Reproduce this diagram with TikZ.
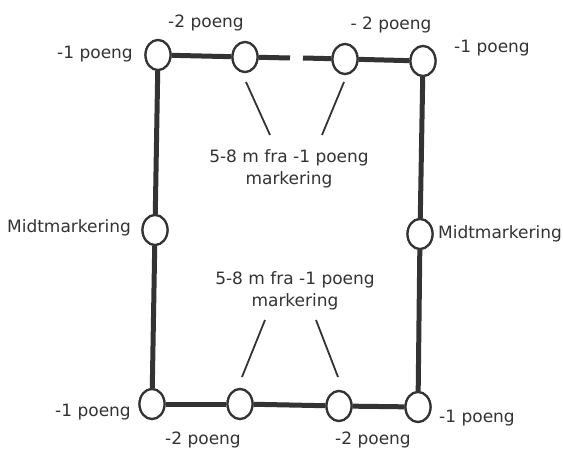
\documentclass[tikz,border=0pt]{standalone}
\usepackage{fontspec}
\setmainfont{DejaVu Sans}
\usetikzlibrary{shapes.geometric}
\definecolor{ink}{HTML}{333333}
\begin{document}
\begin{tikzpicture}[x=1pt,y=-1pt,
  post/.style={ellipse,draw=ink,line width=2.2pt,fill=white,minimum width=25pt,minimum height=30pt,inner sep=0pt},
  rope/.style={draw=ink,line width=5pt},
  pointer/.style={draw=ink,line width=1.8pt},
  lbl/.style={text=ink,font=\fontsize{17}{22}\selectfont,inner sep=0pt}]
\useasboundingbox (0,0) rectangle (563,452);
% posts
\node[post] (tl) at (158,55) {};
\node[post] (t2) at (245,57) {};
\node[post] (t3) at (345,59) {};
\node[post] (tr) at (423,61) {};
\node[post] (ml) at (155,230) {};
\node[post] (mr) at (420,234) {};
\node[post] (bl) at (152,404) {};
\node[post] (b2) at (240,404) {};
\node[post] (b3) at (339,406) {};
\node[post] (br) at (418,407) {};
\coordinate (g1) at (290,58);
\coordinate (g2) at (303,58);
% ropes
\draw[rope] (tl) -- (t2);
\draw[rope] (t2) -- (g1);
\draw[rope] (g2) -- (t3);
\draw[rope] (t3) -- (tr);
\draw[rope] (tl) -- (ml);
\draw[rope] (ml) -- (bl);
\draw[rope] (tr) -- (mr);
\draw[rope] (mr) -- (br);
\draw[rope] (bl) -- (b2);
\draw[rope] (b2) -- (b3);
\draw[rope] (b3) -- (br);
% redraw posts on top
\foreach \n in {tl,t2,t3,tr,ml,mr,bl,b2,b3,br}{\node[post] at (\n) {};}
% labels
\node[lbl] (ltl) at (95,54) {-1 poeng};
\node[lbl] (lt2) at (206,23) {-2 poeng};
\node[lbl] (lt3) at (391,25) {- 2 poeng};
\node[lbl] (ltr) at (492,48) {-1 poeng};
\node[lbl] (lml) at (69,228) {Midtmarkering};
\node[lbl] (lmr) at (500,234) {Midtmarkering};
\node[lbl] (lbl1) at (93,412) {-1 poeng};
\node[lbl] (lb2) at (203,440) {-2 poeng};
\node[lbl] (lb3) at (373,440) {-2 poeng};
\node[lbl] (lbr) at (477,418) {-1 poeng};
\node[lbl,align=center] (mid1) at (289,169) {5-8 m fra -1 poeng\\markering};
\node[lbl,align=center] (mid2) at (295,291) {5-8 m fra -1 poeng\\markering};
% pointers
\coordinate (p1a) at (246,82); \coordinate (p1b) at (270,135);
\coordinate (p2a) at (344,82); \coordinate (p2b) at (322,135);
\coordinate (p3a) at (265,320); \coordinate (p3b) at (242,377);
\coordinate (p4a) at (316,320); \coordinate (p4b) at (338,377);
\draw[pointer] (p1a) -- (p1b);
\draw[pointer] (p2a) -- (p2b);
\draw[pointer] (p3a) -- (p3b);
\draw[pointer] (p4a) -- (p4b);
\end{tikzpicture}
\end{document}
